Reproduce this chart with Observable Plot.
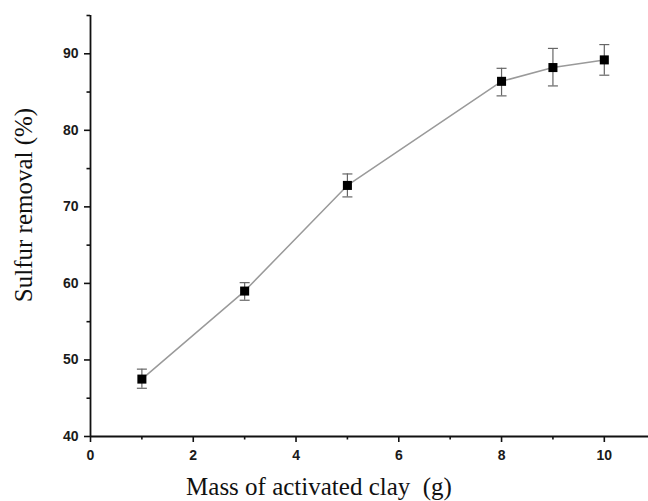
<!DOCTYPE html>
<html>
<head>
<meta charset="utf-8">
<script src="https://cdn.jsdelivr.net/npm/d3@7"></script>
<script src="https://cdn.jsdelivr.net/npm/@observablehq/plot@0.6"></script>
<style>
  html, body { margin: 0; padding: 0; background: #fff; }
  #chart { width: 648px; height: 501px; }
</style>
</head>
<body>
<div id="chart"></div>
<script>
// Data
const mass = [1, 3, 5, 8, 9, 10];
const removal = [47.5, 59.0, 72.8, 86.4, 88.2, 89.2];
const errLow = [46.3, 57.8, 71.3, 84.5, 85.8, 87.2];
const errHigh = [48.8, 60.1, 74.3, 88.1, 90.7, 91.2];

const xMajorTicks = [0, 2, 4, 6, 8, 10];
const xMinorTicks = [1, 3, 5, 7, 9];
const yMajorTicks = [40, 50, 60, 70, 80, 90];
const yMinorTicks = [45, 55, 65, 75, 85, 95];

const xLabel = "Mass of activated clay  (g)";
const yLabel = "Sulfur removal (%)";

const data = mass.map((m, i) => ({x: m, y: removal[i], lo: errLow[i], hi: errHigh[i]}));

const capSymbol = {
  draw(context) {
    context.moveTo(-5, 0);
    context.lineTo(5, 0);
  }
};

const W = 648, H = 501;
const mL = 90, mR = 0, mT = 15, mB = 65;

const chart = Plot.plot({
  width: W,
  height: H,
  marginLeft: mL,
  marginRight: mR,
  marginTop: mT,
  marginBottom: mB,
  style: {fontFamily: "'Liberation Sans', Arial, sans-serif", fontSize: "14px", color: "#111", background: "#fff"},
  x: {domain: [0, 10.86], axis: null},
  y: {domain: [40, 95], axis: null},
  marks: [
    Plot.axisX({ticks: xMajorTicks, tickSize: 6, tickPadding: 8, tickFormat: d => String(d), label: null, stroke: "#111", strokeWidth: 1.6, fill: "#1a1a1a", fontWeight: "bold", fontSize: 14}),
    Plot.axisX({ticks: xMinorTicks, tickSize: 3.5, tickFormat: null, text: null, label: null, stroke: "#111", strokeWidth: 1.6}),
    Plot.axisY({ticks: yMajorTicks, tickSize: 6, tickPadding: 6, tickFormat: d => String(d), label: null, stroke: "#111", strokeWidth: 1.6, fill: "#1a1a1a", fontWeight: "bold", fontSize: 14}),
    Plot.axisY({ticks: yMinorTicks, tickSize: 3.5, tickFormat: null, text: null, label: null, stroke: "#111", strokeWidth: 1.6}),
    Plot.ruleY([40], {stroke: "#111", strokeWidth: 1.8}),
    Plot.ruleX([0], {y1: 40, y2: 95, stroke: "#111", strokeWidth: 1.8}),
    Plot.line(data, {x: "x", y: "y", stroke: "#9a9a9a", strokeWidth: 1.5}),
    Plot.ruleX(data, {x: "x", y1: "lo", y2: "hi", stroke: "#666", strokeWidth: 1.2}),
    Plot.dot(data, {x: "x", y: "lo", symbol: capSymbol, stroke: "#666", strokeWidth: 1.2, fill: "none", r: 3}),
    Plot.dot(data, {x: "x", y: "hi", symbol: capSymbol, stroke: "#666", strokeWidth: 1.2, fill: "none", r: 3}),
    Plot.dot(data, {x: "x", y: "y", symbol: "square", r: 5.1, fill: "#000", stroke: "none"})
  ]
});

const svg = d3.select(chart);
svg.selectAll("g[aria-label$='tick label']")
  .attr("font-size", 14)
  .style("font-size", "14px")
  .style("font-family", "'Liberation Sans', Arial, sans-serif");
svg.append("text")
  .attr("x", 319)
  .attr("y", 495)
  .attr("text-anchor", "middle")
  .attr("font-family", "'Liberation Serif', 'Times New Roman', serif")
  .attr("font-size", 25)
  .attr("fill", "#111")
  .text(xLabel);
svg.append("text")
  .attr("transform", "translate(32,205) rotate(-90)")
  .attr("text-anchor", "middle")
  .attr("font-family", "'Liberation Serif', 'Times New Roman', serif")
  .attr("font-size", 25)
  .attr("fill", "#111")
  .text(yLabel);

document.getElementById("chart").appendChild(chart);
</script>
</body>
</html>
